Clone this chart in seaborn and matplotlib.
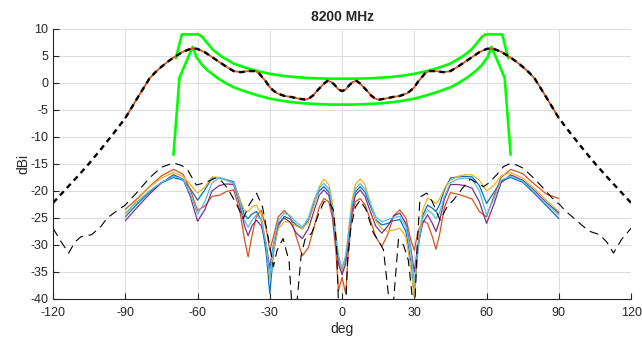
import numpy as np
import pandas as pd
import matplotlib
matplotlib.use("Agg")
import matplotlib.pyplot as plt
import seaborn as sns

# co-pol pattern (symmetric), deg / dBi
copol_half_x = [-120, -115, -110, -105, -100, -95, -90, -85, -80, -77.5, -75, -72.5, -70, -66, -63,
                -61.5, -60, -57, -54, -51, -48, -45, -42, -39, -36, -34.5, -33, -31.5, -30, -28.5,
                -27, -24, -21, -18, -15, -13.5, -12, -10.5, -9, -7.5, -6, -4.5, -3, -1.5]
copol_half_y = [-22.2, -19.8, -17.4, -14.9, -12.2, -9.4, -6.5, -2.8, 0.8, 2.0, 3.0, 3.9, 4.7, 5.8, 6.3,
                6.4, 6.3, 5.7, 4.8, 3.9, 3.0, 2.2, 2.0, 2.2, 2.2, 1.8, 1.0, 0.2, -0.8, -1.4,
                -1.9, -2.4, -2.6, -2.9, -3.1, -2.8, -2.3, -1.5, -0.8, -0.1, 0.4, 0.2, -0.4, -1.2]
copol_x = copol_half_x + [0] + [-v for v in copol_half_x[::-1]]
copol_y = copol_half_y + [-1.5] + copol_half_y[::-1]

# gain mask (upper / lower limits)
upper_half_x = [-69, -66.5, -59.5, -58, -56, -53.5, -50, -45, -40, -35, -30, -25, -20, -15, -10, -5]
upper_half_y = [4.6, 9.0, 9.0, 8.5, 7.4, 6.1, 4.9, 3.6, 2.8, 2.2, 1.7, 1.35, 1.1, 0.95, 0.85, 0.8]
lower_half_x = [-70, -67.5, -62, -60.5, -58, -56, -52, -48, -45, -40, -35, -30, -25, -20, -15, -10, -5]
lower_half_y = [-13.3, 1.0, 6.7, 4.8, 3.3, 2.4, 1.0, -0.1, -0.8, -1.6, -2.3, -2.9, -3.3, -3.6, -3.8, -3.9, -4.0]
upper_x = upper_half_x + [0] + [-v for v in upper_half_x[::-1]]
upper_y = upper_half_y + [0.8] + upper_half_y[::-1]
lower_x = lower_half_x + [0] + [-v for v in lower_half_x[::-1]]
lower_y = lower_half_y + [-4.0] + lower_half_y[::-1]

# cross-pol patterns, -90..90 deg
xp_half = [-90, -85, -80, -75, -70, -66, -63, -60, -57, -54, -51, -48, -45, -42.5, -40.5, -39,
           -37.5, -35.5, -33.5, -31.5, -30, -28.5, -26.5, -24, -21.5, -19, -16.5, -14, -11.5,
           -9.5, -7.5, -5.5, -4, -2.5, -1.5]
xp_x = xp_half + [0] + [-v for v in xp_half[::-1]]

xp_orange = [-23.4, -21.4, -19.2, -17.2, -16.0, -16.9, -19.8, -23.6, -22.8, -21.0, -20.8, -20.1,
             -19.8, -23.5, -29.0, -32.2, -28.5, -24.5, -23.6, -27.0, -31.0, -28.5, -24.8, -23.6,
             -24.8, -28.5, -32.0, -30.5, -26.5, -23.0, -21.4, -22.0, -25.0, -31.5, -38.5,
             -36.0,
             -39.0, -32.0, -25.0, -22.0, -21.4, -22.5, -25.0, -28.5, -30.3, -28.0, -24.5, -23.5,
             -25.0, -29.0, -31.0, -27.5, -25.5, -26.0, -28.5, -30.8, -28.0, -23.0, -20.3, -20.6,
             -21.0, -21.5, -23.8, -24.8, -21.0, -17.5, -16.0, -16.8, -18.8, -20.6, -21.4]
xp_yellow = [-24.6, -21.6, -19.3, -17.6, -16.6, -17.3, -18.8, -20.4, -19.3, -17.4, -17.5, -18.0,
             -18.6, -21.5, -23.6, -23.8, -23.0, -22.6, -24.5, -30.0, -36.5, -31.0, -27.0, -25.7,
             -25.8, -26.5, -27.0, -25.8, -22.5, -19.2, -17.8, -18.8, -22.0, -28.0, -32.0,
             -35.2,
             -32.0, -28.0, -22.0, -18.8, -17.8, -18.8, -21.8, -25.5, -27.0, -27.5, -27.2, -26.9,
             -28.5, -34.0, -39.6, -30.0, -23.5, -21.3, -21.8, -22.3, -21.5, -19.5, -18.0, -17.3,
             -17.0, -17.0, -18.0, -20.0, -19.0, -17.2, -16.6, -17.6, -19.6, -21.8, -23.8]
xp_lightblue = [-24.1, -22.0, -20.0, -18.4, -17.3, -17.8, -20.5, -24.3, -22.0, -18.5, -17.6, -18.0,
                -18.6, -22.0, -25.5, -26.7, -25.5, -24.4, -25.5, -30.0, -36.0, -30.0, -25.5, -24.1,
                -24.6, -25.8, -26.7, -25.0, -21.5, -19.5, -18.6, -19.6, -23.0, -29.0, -32.0,
                -34.3,
                -32.0, -29.0, -23.0, -19.6, -18.6, -19.6, -22.0, -24.8, -25.7, -25.3, -24.9, -24.7,
                -26.5, -31.0, -37.0, -30.5, -25.0, -23.5, -24.2, -25.1, -24.0, -21.0, -18.5, -17.8,
                -17.6, -17.8, -20.0, -24.4, -21.5, -18.0, -17.3, -18.2, -20.2, -22.4, -24.4]
xp_blue = [-24.8, -22.4, -20.2, -18.5, -17.5, -18.0, -19.6, -21.7, -19.8, -17.6, -17.5, -17.9,
           -18.3, -21.5, -24.5, -25.1, -24.3, -23.8, -25.5, -31.5, -39.0, -31.5, -26.5, -24.7,
           -25.2, -26.3, -27.0, -25.5, -22.0, -20.0, -19.2, -20.2, -23.5, -29.5, -32.5,
           -34.8,
           -32.5, -29.5, -23.5, -20.2, -19.2, -20.2, -22.5, -25.3, -26.3, -26.0, -25.5, -25.3,
           -27.5, -33.0, -39.5, -31.0, -24.5, -22.6, -23.2, -23.8, -22.5, -19.8, -17.6, -17.4,
           -17.3, -17.4, -19.0, -22.3, -20.3, -18.2, -17.5, -18.4, -20.5, -22.8, -25.1]
xp_purple = [-25.5, -23.0, -20.6, -18.5, -17.0, -17.8, -21.0, -25.6, -23.5, -20.0, -19.0, -18.7,
             -18.8, -22.5, -26.5, -28.3, -26.5, -25.4, -26.5, -30.0, -34.3, -30.0, -26.0, -25.0,
             -25.8, -27.8, -28.8, -27.0, -23.5, -20.8, -19.8, -20.8, -24.0, -30.0, -33.5,
             -35.5,
             -33.5, -30.0, -24.0, -20.8, -19.8, -21.0, -23.5, -26.5, -27.8, -26.5, -24.6, -24.1,
             -26.0, -30.5, -35.0, -30.0, -26.0, -24.4, -26.0, -27.5, -25.5, -21.5, -18.8, -18.8,
             -19.0, -19.5, -22.0, -26.0, -22.5, -18.5, -17.0, -18.0, -20.0, -22.2, -24.1]

# reference cross-pol (thin dashed), -120..120 deg
ref_x = [-120, -116.5, -113.5, -111, -108.5, -104, -100, -97.5, -93, -90, -85, -80, -75, -70,
         -66.5, -64, -60.5, -58, -55, -52.5, -50, -47.5, -44, -41, -38.5, -35.5, -33, -30.5,
         -28.5, -27, -24.5, -22, -20.3, -18.8, -17, -15.4, -12.6, -9.5, -7.5, -5.5, -3.6, -2.3,
         -1.2, 0, 1.2, 2.3, 3.6, 5.5, 7.5, 10, 13, 15.5, 17.2, 19.2, 20.5, 21.8, 23.4, 25.5,
         27.5, 29, 30, 31.2, 32.4, 35.2, 37.5, 40.7, 43.5, 46.2, 50, 53.2, 56, 58.7, 61, 64.2,
         67, 69.8, 72.5, 75.3, 80, 83.6, 87, 90.5, 93, 97.5, 100, 103, 107, 110, 112.7, 116, 120]
ref_y = [-26.9, -29.5, -31.5, -29.5, -28.5, -28.1, -26.5, -25.0, -23.5, -22.6, -20.2, -17.6, -15.6,
         -14.8, -15.3, -16.2, -18.9, -18.6, -18.1, -17.6, -18.2, -19.5, -22.3, -25.1, -22.5, -20.4,
         -23.0, -29.0, -34.0, -31.0, -28.8, -33.0, -45.0, -41.0, -32.0, -29.0, -27.8, -24.0, -22.0,
         -22.0, -23.5, -30.0, -45.0, -50.0, -45.0, -33.0, -27.0, -23.0, -21.7, -23.5, -27.8, -29.5,
         -30.9, -39.0, -46.0, -38.0, -29.0, -30.0, -32.8, -39.0, -44.0, -30.0, -21.1, -20.4, -22.0,
         -25.4, -23.0, -21.7, -19.5, -17.8, -18.5, -19.2, -18.5, -17.0, -15.5, -14.9, -15.2, -15.8,
         -17.8, -19.5, -21.2, -22.6, -23.8, -25.5, -26.5, -27.5, -28.1, -29.5, -31.5, -29.0, -26.9]

sns.set_style("white")
plt.rcParams['font.family'] = ['Liberation Sans', 'DejaVu Sans']
plt.rcParams['axes.unicode_minus'] = False

fig = plt.figure(figsize=(6.42, 3.37), dpi=100)
ax = fig.add_axes([0.0826, 0.1128, 0.9004, 0.8012])

green = '#00ff00'
sns.lineplot(x=upper_x, y=upper_y, color=green, lw=1.9, ax=ax, sort=False)
sns.lineplot(x=lower_x, y=lower_y, color=green, lw=1.9, ax=ax, sort=False)

# co-pol under the dashed reference
cp = pd.DataFrame({'deg': copol_x, 'dBi': copol_y})
cp_in = cp[(cp.deg >= -90) & (cp.deg <= 90)]
sns.lineplot(data=cp_in, x='deg', y='dBi', color='#D95319', lw=1.3, ax=ax)
sns.lineplot(data=cp, x='deg', y='dBi', color='black', lw=1.7,
             linestyle=(0, (2.4, 1.9)), ax=ax)

xp_colors = {'#0072BD': xp_blue, '#D95319': xp_orange, '#EDB120': xp_yellow,
             '#7E2F8E': xp_purple, '#4DBEEE': xp_lightblue}
for c, vals in xp_colors.items():
    sns.lineplot(x=xp_x, y=vals, color=c, lw=0.9, ax=ax)

sns.lineplot(x=ref_x, y=ref_y, color='black', lw=0.8, linestyle=(0, (8, 5)), ax=ax)

ax.set_xlim(-120, 120)
ax.set_ylim(-40, 10)
ax.set_xticks(np.arange(-120, 121, 30))
ax.set_yticks(np.arange(-40, 11, 5))
ax.grid(True, color='#dcdcdc', lw=0.7)
ax.set_axisbelow(True)
for s in ['top', 'right']:
    ax.spines[s].set_visible(False)
for s in ['left', 'bottom']:
    ax.spines[s].set_color('#262626')
    ax.spines[s].set_linewidth(0.8)
ax.tick_params(direction='in', length=4, width=0.8, colors='#262626', labelsize=9,
               left=True, bottom=True)
ax.tick_params(axis='x', pad=6)
ax.set_xlabel('deg', fontsize=10, color='#262626', labelpad=2)
ax.set_ylabel('dBi', fontsize=10, color='#262626', labelpad=0)
ax.set_title('8200 MHz', fontsize=10, fontweight='bold', pad=6)

fig.savefig('out.png', dpi=100)
